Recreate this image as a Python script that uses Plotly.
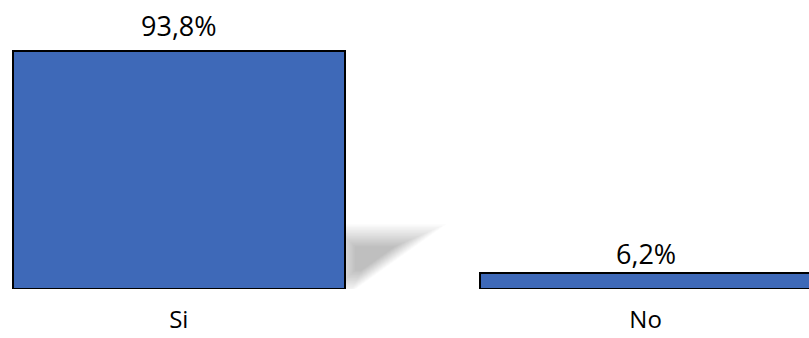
import plotly.graph_objects as go

categories = ["Si", "No"]
values = [93.8, 6.2]
value_labels = ["93,8%", "6,2%"]

FONT = "Open Sans"
BAR_W = 0.71
x_pos = list(range(len(categories)))

fig = go.Figure()
fig.add_trace(go.Bar(
    x=x_pos, y=values, width=BAR_W,
    marker=dict(color="#3E69B8", line=dict(color="#000000", width=2)),
    hoverinfo="skip", showlegend=False,
))

# value labels above bars
label_shift = [26, 20]
for xi, v, t, s in zip(x_pos, values, value_labels, label_shift):
    fig.add_annotation(x=xi, y=v, text=t, showarrow=False, yanchor="middle",
                       yshift=s, font=dict(family=FONT, size=27, color="#000000"))

# soft perspective shadow behind the first bar (decorative), built from bar geometry
bx = x_pos[0] + BAR_W / 2
top = values[0] * 0.257
cx, cy = bx + 0.05, top * 0.5
base = [(bx - 0.02, top), (bx + 0.2, top), (bx + 0.017, 0.0), (bx - 0.02, 0.0)]
n_layers = 16
for i in range(n_layers):
    f = 0.4 + 0.048 * i
    pts = [(cx + (px - cx) * f, cy + (py - cy) * f) for px, py in base]
    path = "M " + " L ".join(f"{px},{py}" for px, py in pts) + " Z"
    fig.add_shape(type="path", path=path, xref="x", yref="y", layer="below",
                  fillcolor="rgba(0,0,0,0.016)", line=dict(width=0))

fig.update_layout(
    width=809, height=338,
    margin=dict(l=0, r=0, t=0, b=49),
    paper_bgcolor="white", plot_bgcolor="white",
    bargap=0,
    xaxis=dict(range=[-0.383, 1.35], tickvals=x_pos, ticktext=categories,
               showgrid=False, zeroline=False, showline=False, ticks="",
               tickfont=dict(family=FONT, size=24, color="#000000"),
               ticklabelstandoff=14, automargin=False, fixedrange=True),
    yaxis=dict(range=[0, 113.9], visible=False, fixedrange=True, automargin=False),
    font=dict(family=FONT),
)

fig.write_html("out.html")
